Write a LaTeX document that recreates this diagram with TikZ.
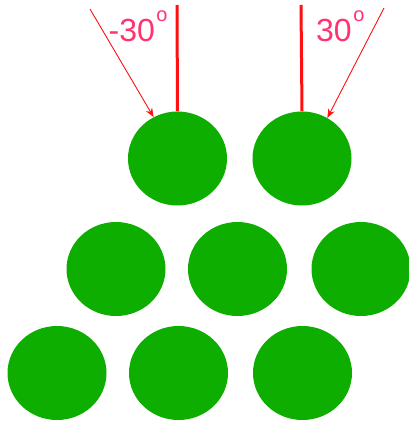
\documentclass[tikz,border=0pt]{standalone}
\usepackage{fontspec}
\setmainfont{Liberation Sans}
\usepackage{xcolor}
\definecolor{ballg}{HTML}{0EAE00}
\definecolor{redl}{HTML}{FF1010}
\definecolor{pinkt}{HTML}{FF3370}
\usetikzlibrary{arrows.meta,shapes.geometric}
\newcommand\dego{\hspace{1.5pt}\raisebox{20pt}{\fontsize{20}{20}\selectfont o}}
\tikzset{
  ball/.style={ellipse,fill=ballg,draw=none,minimum width=99pt,minimum height=94pt,inner sep=0pt},
  normline/.style={draw=redl,line width=3pt},
  inarr/.style={-{Stealth[length=9pt,width=7pt]},draw=redl,line width=0.9pt},
  lab/.style={text=pinkt,font=\fontsize{32}{32}\selectfont,inner sep=0pt,anchor=base west},
}
\begin{document}
\begin{tikzpicture}[x=1pt,y=-1pt]
\useasboundingbox (0,0) rectangle (409,426);
% top row
\node[ball] (t1) at (177.5,158.5) {};
\node[ball] (t2) at (302,158.5) {};
% middle row
\node[ball] (m1) at (116,269) {};
\node[ball] (m2) at (237.5,269) {};
\node[ball] (m3) at (361,269) {};
% bottom row
\node[ball] (b1) at (57,373) {};
\node[ball] (b2) at (178.5,373) {};
\node[ball] (b3) at (302.5,373) {};
% normals and incident rays
\coordinate (n1) at (177,5);
\coordinate (n2) at (301,5);
\coordinate (s1) at (90,9);
\coordinate (s2) at (384,8);
\draw[normline] (n1) -- (t1.north);
\draw[normline] (n2) -- (t2.north);
\draw[inarr] (s1) -- (t1.120);
\draw[inarr] (s2) -- (t2.58);
\node[lab] (a1) at (108.5,41.5) {-30\dego};
\node[lab] (a2) at (316,41.5) {30\dego};
\end{tikzpicture}
\end{document}
